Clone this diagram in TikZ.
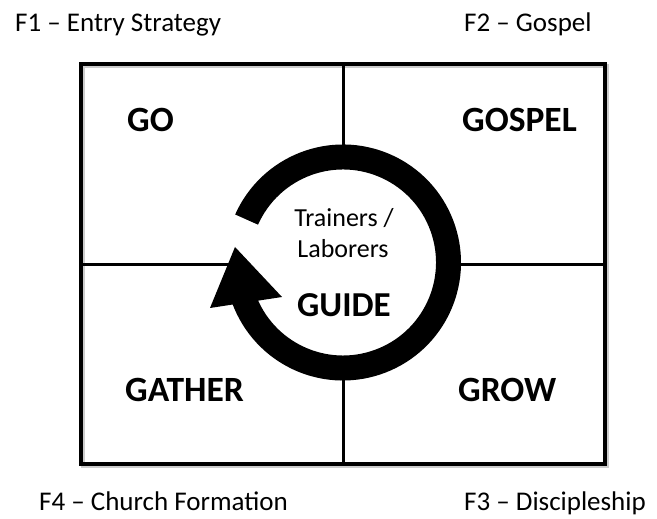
\documentclass[tikz,border=0pt]{standalone}
\usepackage{fontspec}
\setmainfont{Carlito}
\usetikzlibrary{calc}
\begin{document}
\begin{tikzpicture}[x=1pt,y=1pt,
  flabel/.style={anchor=base west,inner sep=0pt,font=\fontsize{27}{30}\selectfont},
  quad/.style={anchor=base west,inner sep=0pt,font=\fontsize{35.5}{40}\selectfont\bfseries},
  mid/.style={anchor=base,inner sep=0pt,font=\fontsize{26}{29}\selectfont},
  frame/.style={line width=4pt,line join=miter},
  divider/.style={line width=3pt}]
\useasboundingbox (0,0) rectangle (657,519);
% shadow
\draw[black!20,line width=4pt] (82.5,53) rectangle (606.5,453);
% frame
\coordinate (tl) at (80.5,455);
\coordinate (br) at (604.5,55);
\draw[frame] (tl) rectangle (br);
\coordinate (vt) at (343,455);
\coordinate (vb) at (343,55);
\coordinate (hl) at (80.5,254);
\coordinate (hr) at (604.5,254);
\draw[divider] (vt) -- (vb);
\draw[divider] (hl) -- (hr);
% white disc behind ring
\coordinate (C) at (343,256.5);
\fill[white] (C) circle (112);
% ring arrow
\fill[black] ($(C)+(156:118)$) arc[start angle=156,end angle=-160,radius=118]
  -- ($(C)+(-160:93)$) arc[start angle=-160,end angle=156,radius=93] -- cycle;
\coordinate (ao) at (210,211);
\coordinate (at) at (235,272);
\coordinate (ai) at (282,222);
\fill[black] (ao) -- (at) -- (ai) -- cycle;
% labels
\node[flabel] (f1) at (15,487) {F1 – Entry Strategy};
\node[flabel] (f2) at (464,487) {F2 – Gospel};
\node[flabel] (f4) at (39,8) {F4 – Church Formation};
\node[flabel] (f3) at (464,8) {F3 – Discipleship};
\node[quad] (go) at (127,387) {GO};
\node[quad] (gospel) at (462,387) {GOSPEL};
\node[quad] (gather) at (125,117) {GATHER};
\node[quad] (grow) at (458,117) {GROW};
\node[mid] (tr) at (344,292) {Trainers /};
\node[mid] (lab) at (343,261) {Laborers};
\node[mid,font=\fontsize{35}{40}\selectfont\bfseries] (guide) at (344,202) {GUIDE};
\end{tikzpicture}
\end{document}
